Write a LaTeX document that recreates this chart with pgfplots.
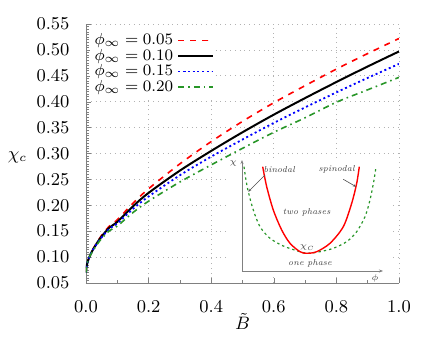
\RequirePackage{fix-cm}
\documentclass[border=0pt]{standalone}
\usepackage{pgfplots}
\pgfplotsset{compat=1.18}
\usetikzlibrary{arrows.meta}
\definecolor{mygreen}{RGB}{40,150,40}
\begin{document}
\begin{tikzpicture}
\useasboundingbox (0,0) rectangle (218pt,169pt);
\begin{axis}[
  scale only axis, width=156.5pt, height=129.5pt,
  at={(43pt,27.5pt)}, anchor=south west,
  xmin=0, xmax=1, ymin=0.05, ymax=0.55, enlargelimits=false,
  xtick={0,0.2,0.4,0.6,0.8,1.0},
  ytick={0.05,0.10,0.15,0.20,0.25,0.30,0.35,0.40,0.45,0.50,0.55},
  minor x tick num=1, minor y tick num=9,
  axis x line*=bottom, axis y line*=left,
  axis line style={gray}, tick style={gray},
  major tick length=2.5pt, minor tick length=1.3pt,
  grid=major, major grid style={dotted, gray!60},
  tick label style={font=\small},
  xticklabel style={yshift=-5.3pt,/pgf/number format/.cd, fixed, fixed zerofill, precision=1},
  yticklabel style={xshift=-4.75pt,/pgf/number format/.cd, fixed, fixed zerofill, precision=2},
  xlabel={$\tilde{B}$}, ylabel={$\chi_c$},
  label style={font=\small},
  xlabel style={at={(axis description cs:0.5,0)}, anchor=north, yshift=-11.5pt},
  ylabel style={rotate=-90, at={(axis description cs:0,0.486)}, anchor=center, xshift=-34.25pt},
  legend style={at={(axis description cs:0.01,0.985)}, anchor=north west, draw=none, fill=white,
    font=\footnotesize, row sep=-3.25pt, inner sep=0.5pt},
  legend cell align=left, legend plot pos=right,
]
\addplot[red, dashed, thick, smooth] coordinates {
(0,0.070) (0.002,0.083) (0.005,0.090) (0.01,0.099) (0.02,0.113) (0.035,0.128) (0.05,0.142) (0.075,0.160) (0.1,0.172) (0.15,0.204) (0.2,0.232) (0.3,0.280) (0.4,0.323) (0.5,0.362) (0.6,0.398) (0.7,0.431) (0.8,0.463) (0.9,0.493) (1.0,0.522)};
\addlegendentry{$\phi_\infty=0.05$}
\addplot[black, line width=1pt, smooth] coordinates {
(0,0.070) (0.002,0.083) (0.005,0.090) (0.01,0.099) (0.02,0.112) (0.035,0.127) (0.05,0.140) (0.075,0.157) (0.1,0.168) (0.15,0.198) (0.2,0.224) (0.3,0.267) (0.4,0.305) (0.5,0.341) (0.6,0.375) (0.7,0.407) (0.8,0.438) (0.9,0.468) (1.0,0.497)};
\addlegendentry{$\phi_\infty=0.10$}
\addplot[blue, line width=0.9pt, dash pattern=on 1pt off 1.4pt, smooth] coordinates {
(0,0.070) (0.002,0.082) (0.005,0.090) (0.01,0.099) (0.02,0.112) (0.035,0.126) (0.05,0.138) (0.075,0.155) (0.1,0.165) (0.15,0.193) (0.2,0.217) (0.3,0.258) (0.4,0.294) (0.5,0.327) (0.6,0.359) (0.7,0.389) (0.8,0.418) (0.9,0.446) (1.0,0.473)};
\addlegendentry{$\phi_\infty=0.15$}
\addplot[mygreen, thick, dash dot, smooth] coordinates {
(0,0.070) (0.002,0.082) (0.005,0.090) (0.01,0.099) (0.02,0.110) (0.035,0.124) (0.05,0.136) (0.075,0.151) (0.1,0.160) (0.15,0.186) (0.2,0.208) (0.3,0.245) (0.4,0.278) (0.5,0.310) (0.6,0.341) (0.7,0.369) (0.8,0.399) (0.9,0.423) (1.0,0.447)};
\addlegendentry{$\phi_\infty=0.20$}
\end{axis}
\fill[white] (114.5pt,30.5pt) rectangle (196pt,90pt);
\begin{axis}[
  scale only axis, width=70.5pt, height=55.5pt,
  at={(121pt,33.5pt)}, anchor=south west,
  xmin=0, xmax=141, ymin=0, ymax=111, enlargelimits=false,
  axis lines=left, axis line style={gray, line width=0.4pt, -{Stealth[length=2pt,width=1.5pt]}},
  ticks=none, clip=false,
]
\addplot[mygreen, line width=0.6pt, dash pattern=on 1.2pt off 1.5pt, smooth] coordinates {
(2,104.3) (4,91) (6.3,79.3) (11.3,61) (18,44.3) (28,32.7) (41.3,25) (54.7,20.3) (64.7,17.7) (78,19.3) (91.3,22.7) (104.7,29.3) (114.7,39.3) (123,54.3) (128,71) (132,91) (134,104.3)};
\addplot[red, line width=0.7pt, smooth] coordinates {
(20.7,104.3) (24.7,84.3) (31.3,61) (39.7,41) (48,27.7) (58,19.3) (64.7,17.7) (74.7,19.3) (88,27.7) (101.3,44.3) (109.7,67.7) (114.7,87.7) (117.3,104.3)};
\draw[black!70, line width=0.3pt, -{Stealth[length=1.5pt,width=1.2pt]}] (axis cs:23,96) -- (axis cs:6.3,79.3);
\draw[black!70, line width=0.3pt, -{Stealth[length=1.5pt,width=1.2pt]}] (axis cs:101.3,91.7) -- (axis cs:114,84.3);
\begin{scope}[every node/.style={font=\fontsize{4.3}{5}\selectfont\itshape, text=black!75, inner sep=0.5pt}]
\node at (axis cs:37.3,101.7) {binodal};
\node at (axis cs:94.7,101.7) {spinodal};
\node at (axis cs:64.7,58.7) {two phases};
\node at (axis cs:68,7.7) {one phase};
\node at (axis cs:65.3,23) {$\chi_C$};
\node at (axis cs:-8.7,107.7) {$\chi$};
\node at (axis cs:133,-7.3) {$\phi$};
\end{scope}
\end{axis}
\end{tikzpicture}
\end{document}
